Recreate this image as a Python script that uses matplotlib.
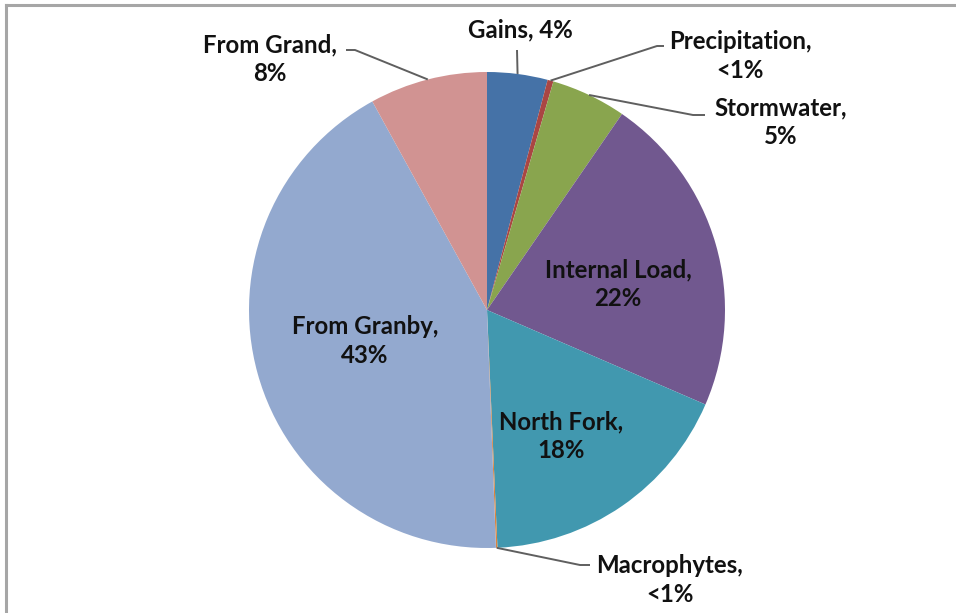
import numpy as np
import matplotlib.pyplot as plt

# phosphorus load sources, clockwise from 12 o'clock
sources = ["Gains", "Precipitation", "Stormwater", "Internal Load",
           "North Fork", "Macrophytes", "From Granby", "From Grand"]
shares = [4.1, 0.4, 5.1, 21.9, 17.8, 0.1, 42.6, 8.0]
share_labels = ["4%", "<1%", "5%", "22%", "18%", "<1%", "43%", "8%"]
colors = ["#4572A7", "#AA4643", "#89A54E", "#71588F",
          "#4198AF", "#DB843D", "#93A9CF", "#D19392"]

W, H = 956, 613
fig = plt.figure(figsize=(W / 100, H / 100), dpi=100)
ax = fig.add_axes([0, 0, 1, 1])

cx, cy, r = 487, H - 310, 238
wedges, _ = ax.pie(shares, colors=colors, startangle=90, counterclock=False,
                   center=(cx, cy), radius=r, frame=True,
                   wedgeprops=dict(linewidth=0))
ax.set_xlim(0, W)
ax.set_ylim(0, H)
ax.set_aspect("equal")
ax.axis("off")

font = dict(family=["Lato", "DejaVu Sans"], fontweight="bold", fontsize=17.3,
            color="#111111", ha="center", va="center", linespacing=1.32)

# label centre (pixels from top) and, for outside labels, elbow points
layout = {
    "Gains": ((520, 30), [(517, 50)]),
    "Precipitation": ((740, 56), [(657, 46), (664, 46)]),
    "Stormwater": ((781, 122), [(693, 115), (705, 115)]),
    "Internal Load": ((618, 284), None),
    "North Fork": ((561, 436), None),
    "Macrophytes": ((670, 580), [(580, 565), (590, 565)]),
    "From Granby": ((365, 341), None),
    "From Grand": ((270, 59), [(355, 50), (346, 50)]),
}
oneline = {"Gains"}

for w, name, lab in zip(wedges, sources, share_labels):
    (tx, ty), elbow = layout[name]
    text = f"{name}, {lab}" if name in oneline else f"{name},\n{lab}"
    ax.text(tx, H - ty, text, **font)
    if elbow is None:
        continue
    ang = np.deg2rad((w.theta1 + w.theta2) / 2)
    px, py = cx + r * np.cos(ang), cy + r * np.sin(ang)
    xs = [px] + [e[0] for e in elbow]
    ys = [py] + [H - e[1] for e in elbow]
    ax.plot(xs, ys, color="#5f5f5f", lw=1.4, solid_capstyle="butt")

# chart frame (top and left edges visible)
fig.add_artist(plt.Line2D([6 / W, 1], [1 - 5 / H, 1 - 5 / H],
                          transform=fig.transFigure, color="#a6a6a6", lw=2.2))
fig.add_artist(plt.Line2D([6 / W, 6 / W], [0, 1 - 5 / H],
                          transform=fig.transFigure, color="#a6a6a6", lw=2.2))

fig.savefig("out.png", dpi=100)
